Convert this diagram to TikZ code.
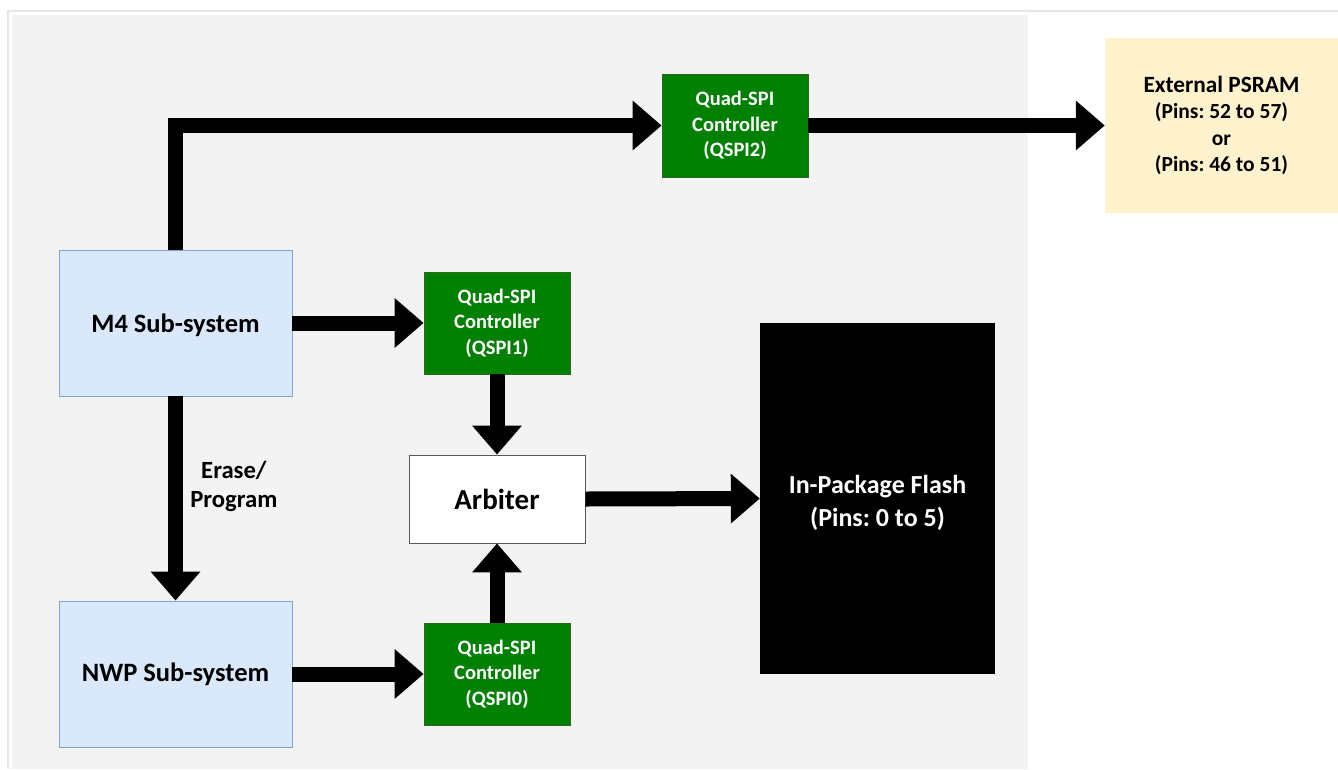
\documentclass[tikz,border=0pt]{standalone}
\usepackage{fontspec}
\setmainfont{Carlito}
\usetikzlibrary{arrows.meta}
\frenchspacing
\definecolor{panel}{HTML}{F3F3F3}
\definecolor{frameline}{HTML}{E6E6E6}
\definecolor{qgreen}{HTML}{008000}
\definecolor{qgreenedge}{HTML}{2E6B1E}
\definecolor{subfill}{HTML}{DAE8FC}
\definecolor{subedge}{HTML}{7EA6D8}
\definecolor{psram}{HTML}{FFF2CC}
\tikzset{
  qspi/.style={draw=qgreenedge, line width=0.8pt, fill=qgreen, text=white,
    minimum width=146pt, minimum height=103pt, inner sep=0pt, align=center,
    font=\bfseries\fontsize{20.5}{25.5}\selectfont},
  subsys/.style={draw=subedge, line width=0.9pt, fill=subfill,
    minimum width=233pt, minimum height=146pt, inner sep=0pt, align=center,
    font=\bfseries\fontsize{26.5}{30}\selectfont},
  bigarrow/.style={line width=15pt, -{Triangle[width=48pt,length=29pt]}, black}
}
% lower a box's ink without changing the size TikZ sees
\newcommand{\lowerink}[2]{\raisebox{-#1}[\height][\depth]{#2}}
\begin{document}
\begin{tikzpicture}[x=1pt,y=-1pt]
  \useasboundingbox (0,0) rectangle (1338,769);
  % page frame and grey panel
  \fill[white] (0,0) rectangle (1338,769);
  \draw[frameline, line width=1.2pt] (8,769) -- (8,11) -- (1338,11);
  \fill[panel] (12,15) rectangle (1028,769);

  % blocks
  \node[qspi] (q2) at (735,125.5) {Quad-SPI\\Controller\\(QSPI2)};
  \node[fill=psram, minimum width=233pt, minimum height=175pt, inner sep=0pt,
        align=center, font=\bfseries\fontsize{21.5}{26.3}\selectfont]
        (ps) at (1221.5,125.5) {{\fontsize{23.3}{26.3}\selectfont External PSRAM}\\(Pins: 52 to 57)\\or\\(Pins: 46 to 51)};
  \node[subsys] (m4) at (175.5,323) {\lowerink{2pt}{M4 Sub-system}};
  \node[qspi, minimum height=102pt] (q1) at (497,323) {Quad-SPI\\Controller\\(QSPI1)};
  \node[draw=black!65, line width=0.9pt, fill=white, minimum width=176pt,
        minimum height=88pt, inner sep=0pt, font=\bfseries\fontsize{29}{32}\selectfont]
        (arb) at (497,499) {Arbiter};
  \node[fill=black, text=white, minimum width=235pt, minimum height=351pt,
        inner sep=0pt, align=center, font=\bfseries\fontsize{26}{33}\selectfont]
        (fl) at (877.5,498.5) {\lowerink{4pt}{\parbox{235pt}{\centering In-Package Flash\\(Pins: 0 to 5)}}};
  \node[subsys] (nwp) at (175.5,674) {NWP Sub-system};
  \node[qspi, minimum height=102pt] (q0) at (497,674) {Quad-SPI\\Controller\\(QSPI0)};

  % connectors
  \draw[bigarrow] (m4.north) |- (q2.west);
  \draw[bigarrow] (q2.east) -- (ps.west);
  \draw[bigarrow] (m4.east) -- (q1.west);
  \draw[bigarrow] (q1.south) -- (arb.north);
  \draw[bigarrow] (q0.north) -- (arb.south);
  \draw[bigarrow] (arb.east) -- (fl.west);
  \draw[bigarrow] (m4.south) -- node[pos=0.44, right=4pt, align=center,
        font=\bfseries\fontsize{24.7}{29}\selectfont] (ep) {Erase/\\Program} (nwp.north);
  \draw[bigarrow] (nwp.east) -- (q0.west);
\end{tikzpicture}
\end{document}
